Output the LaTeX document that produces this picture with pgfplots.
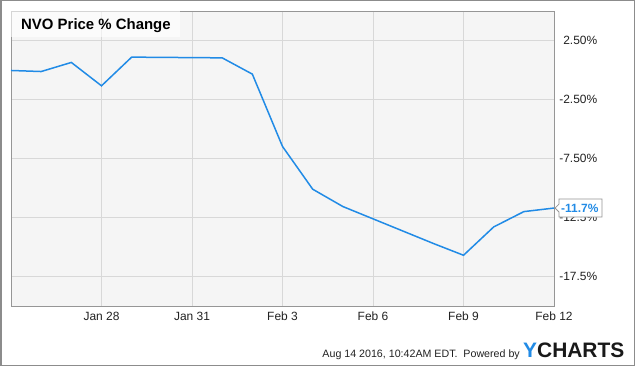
\documentclass[border=0pt]{standalone}
\usepackage{fontspec}
\setmainfont{Liberation Sans}
\usepackage{pgfplots}
\pgfplotsset{compat=1.18}
\definecolor{ylinec}{RGB}{33,139,230}
\definecolor{bgc}{RGB}{245,245,245}
\definecolor{gridc}{RGB}{216,216,216}
\definecolor{framec}{RGB}{150,150,150}
\definecolor{outerc}{RGB}{140,140,140}
\definecolor{txtc}{RGB}{34,34,34}
\begin{document}
\begin{tikzpicture}[x=1bp,y=1bp]
\useasboundingbox (0,0) rectangle (635,366);
\fill[white] (0,0) rectangle (635,366);
\begin{axis}[
  at={(11bp,60bp)}, anchor=south west,
  scale only axis, width=543bp, height=295bp,
  xmin=0, xmax=18, ymin=-20, ymax=5,
  axis background/.style={fill=bgc},
  axis line style={framec, line width=0.8bp},
  grid=major, major grid style={gridc, line width=0.8bp},
  xtick={3,6,9,12,15,18},
  xticklabels={Jan 28, Jan 31, Feb 3, Feb 6, Feb 9, Feb 12},
  ytick={2.5,-2.5,-7.5,-12.5,-17.5},
  yticklabels={2.50\%, -2.50\%, -7.50\%, -12.5\%, -17.5\%},
  yticklabel pos=right,
  major tick length=0pt,
  /pgf/number format/assume math mode=true,
  ticklabel style={font=\fontsize{12}{14}\selectfont, text=txtc},
  yticklabel style={anchor=west, inner sep=0pt, text width=38bp, align=right, xshift=5bp},
  xticklabel style={inner sep=0pt, yshift=-6bp},
  clip=false,
]
\addplot[ylinec, line width=1.5bp, mark=none] coordinates {
(0,-0.04) (1,-0.13) (2,0.64) (3,-1.34) (4,1.09)
(7,1.03) (8,-0.35) (9,-6.48) (10,-10.1) (11,-11.57)
(14,-14.7) (15,-15.7) (16,-13.3) (17,-12.0) (18,-11.7)
};
\coordinate (last) at (axis cs:18,-11.7);
\end{axis}
% title box
\fill[white, opacity=0.6] (11,329) rectangle (180,355);
\node[anchor=base west, inner sep=0pt, text=black] at (21,337) {\bfseries\fontsize{15}{18}\selectfont NVO Price \% Change};
% last value label
\draw[framec, fill=white, line width=0.8bp] ([xshift=1bp]last) -- ([xshift=5bp,yshift=4bp]last) -- ([xshift=5bp,yshift=9bp]last) -- ([xshift=48bp,yshift=9bp]last) -- ([xshift=48bp,yshift=-9bp]last) -- ([xshift=5bp,yshift=-9bp]last) -- ([xshift=5bp,yshift=-4bp]last) -- cycle;
\node[anchor=west, inner sep=0pt, text=ylinec] at ([xshift=7bp]last) {\bfseries\fontsize{12}{14}\selectfont -11.7\%};
% footer
\node[anchor=base east, inner sep=0pt, text=txtc] at (520,9) {\fontsize{10.7}{13}\selectfont Aug 14 2016, 10:42AM EDT.\ \ Powered by};
\node[anchor=base west, inner sep=0pt] at (523,9) {\bfseries\fontsize{21}{24}\selectfont\textcolor{ylinec}{Y}\textcolor{black!90}{CHARTS}};
% outer frame
\draw[outerc, line width=1.5bp] (0.75,0.75) rectangle (634.25,365.25);
\end{tikzpicture}
\end{document}
